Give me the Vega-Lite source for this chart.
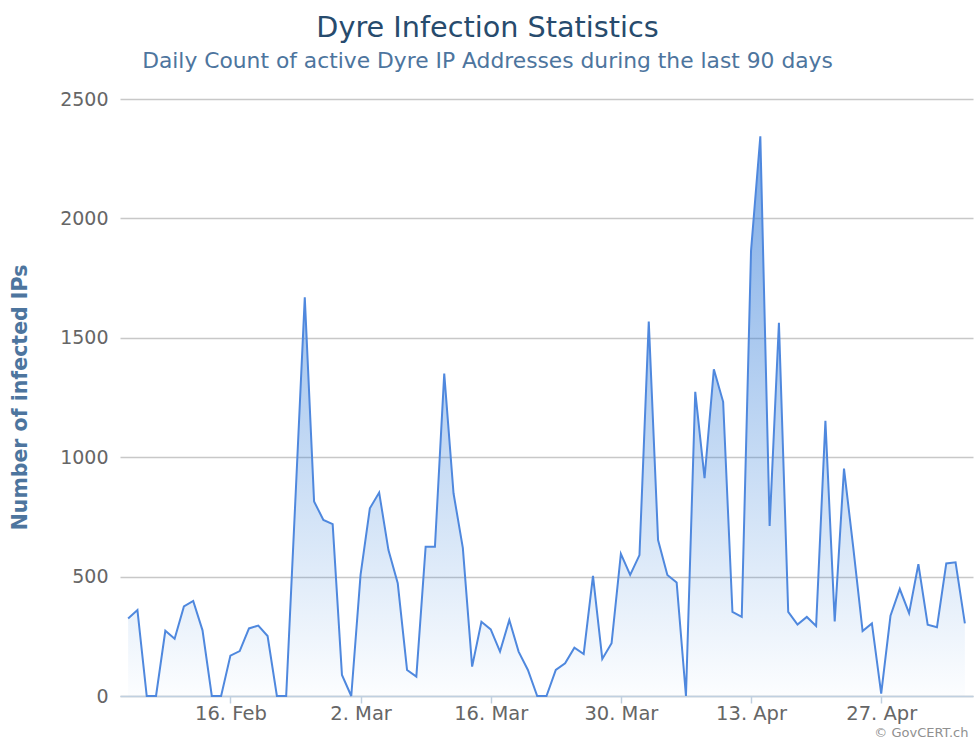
{
  "$schema": "https://vega.github.io/schema/vega-lite/v6.json",
  "width": 853,
  "height": 597,
  "autosize": "none",
  "padding": {"left": 120, "top": 99, "right": 1, "bottom": 44},
  "background": "#ffffff",
  "config": {"view": {"stroke": null}, "font": "DejaVu Sans"},
  "title": {
    "text": "Dyre Infection Statistics",
    "subtitle": "Daily Count of active Dyre IP Addresses during the last 90 days",
    "anchor": "middle",
    "frame": "group",
    "dx": -59,
    "offset": 17,
    "font": "DejaVu Sans",
    "fontSize": 28.7,
    "fontWeight": "normal",
    "color": "#274b6d",
    "subtitleFont": "DejaVu Sans",
    "subtitleFontSize": 21.8,
    "subtitleColor": "#4d759e",
    "subtitlePadding": 8.5
  },
  "data": {
    "values": [
      {"date": "2015-02-05T00:00:00", "ips": 325},
      {"date": "2015-02-06T00:00:00", "ips": 360},
      {"date": "2015-02-07T00:00:00", "ips": 0},
      {"date": "2015-02-08T00:00:00", "ips": 0},
      {"date": "2015-02-09T00:00:00", "ips": 273},
      {"date": "2015-02-10T00:00:00", "ips": 240},
      {"date": "2015-02-11T00:00:00", "ips": 375},
      {"date": "2015-02-12T00:00:00", "ips": 398},
      {"date": "2015-02-13T00:00:00", "ips": 275},
      {"date": "2015-02-14T00:00:00", "ips": 0},
      {"date": "2015-02-15T00:00:00", "ips": 0},
      {"date": "2015-02-16T00:00:00", "ips": 169},
      {"date": "2015-02-17T00:00:00", "ips": 188},
      {"date": "2015-02-18T00:00:00", "ips": 283},
      {"date": "2015-02-19T00:00:00", "ips": 295},
      {"date": "2015-02-20T00:00:00", "ips": 251},
      {"date": "2015-02-21T00:00:00", "ips": 0},
      {"date": "2015-02-22T00:00:00", "ips": 0},
      {"date": "2015-02-23T00:00:00", "ips": 830},
      {"date": "2015-02-24T00:00:00", "ips": 1670},
      {"date": "2015-02-25T00:00:00", "ips": 815},
      {"date": "2015-02-26T00:00:00", "ips": 737},
      {"date": "2015-02-27T00:00:00", "ips": 720},
      {"date": "2015-02-28T00:00:00", "ips": 88},
      {"date": "2015-03-01T00:00:00", "ips": 0},
      {"date": "2015-03-02T00:00:00", "ips": 507},
      {"date": "2015-03-03T00:00:00", "ips": 786},
      {"date": "2015-03-04T00:00:00", "ips": 852},
      {"date": "2015-03-05T00:00:00", "ips": 611},
      {"date": "2015-03-06T00:00:00", "ips": 472},
      {"date": "2015-03-07T00:00:00", "ips": 109},
      {"date": "2015-03-08T00:00:00", "ips": 81},
      {"date": "2015-03-09T00:00:00", "ips": 625},
      {"date": "2015-03-10T00:00:00", "ips": 625},
      {"date": "2015-03-11T00:00:00", "ips": 1350},
      {"date": "2015-03-12T00:00:00", "ips": 849},
      {"date": "2015-03-13T00:00:00", "ips": 620},
      {"date": "2015-03-14T00:00:00", "ips": 123},
      {"date": "2015-03-15T00:00:00", "ips": 311},
      {"date": "2015-03-16T00:00:00", "ips": 279},
      {"date": "2015-03-17T00:00:00", "ips": 186},
      {"date": "2015-03-18T00:00:00", "ips": 318},
      {"date": "2015-03-19T00:00:00", "ips": 186},
      {"date": "2015-03-20T00:00:00", "ips": 109},
      {"date": "2015-03-21T00:00:00", "ips": 0},
      {"date": "2015-03-22T00:00:00", "ips": 0},
      {"date": "2015-03-23T00:00:00", "ips": 109},
      {"date": "2015-03-24T00:00:00", "ips": 137},
      {"date": "2015-03-25T00:00:00", "ips": 202},
      {"date": "2015-03-26T00:00:00", "ips": 176},
      {"date": "2015-03-27T00:00:00", "ips": 503},
      {"date": "2015-03-28T00:00:00", "ips": 155},
      {"date": "2015-03-29T00:00:00", "ips": 221},
      {"date": "2015-03-30T00:00:00", "ips": 595},
      {"date": "2015-03-31T00:00:00", "ips": 507},
      {"date": "2015-04-01T00:00:00", "ips": 590},
      {"date": "2015-04-02T00:00:00", "ips": 1568},
      {"date": "2015-04-03T00:00:00", "ips": 653},
      {"date": "2015-04-04T00:00:00", "ips": 507},
      {"date": "2015-04-05T00:00:00", "ips": 475},
      {"date": "2015-04-06T00:00:00", "ips": 0},
      {"date": "2015-04-07T00:00:00", "ips": 1274},
      {"date": "2015-04-08T00:00:00", "ips": 912},
      {"date": "2015-04-09T00:00:00", "ips": 1368},
      {"date": "2015-04-10T00:00:00", "ips": 1232},
      {"date": "2015-04-11T00:00:00", "ips": 352},
      {"date": "2015-04-12T00:00:00", "ips": 331},
      {"date": "2015-04-13T00:00:00", "ips": 1864},
      {"date": "2015-04-14T00:00:00", "ips": 2344},
      {"date": "2015-04-15T00:00:00", "ips": 712},
      {"date": "2015-04-16T00:00:00", "ips": 1563},
      {"date": "2015-04-17T00:00:00", "ips": 352},
      {"date": "2015-04-18T00:00:00", "ips": 299},
      {"date": "2015-04-19T00:00:00", "ips": 331},
      {"date": "2015-04-20T00:00:00", "ips": 293},
      {"date": "2015-04-21T00:00:00", "ips": 1152},
      {"date": "2015-04-22T00:00:00", "ips": 312},
      {"date": "2015-04-23T00:00:00", "ips": 952},
      {"date": "2015-04-24T00:00:00", "ips": 620},
      {"date": "2015-04-25T00:00:00", "ips": 272},
      {"date": "2015-04-26T00:00:00", "ips": 304},
      {"date": "2015-04-27T00:00:00", "ips": 10},
      {"date": "2015-04-28T00:00:00", "ips": 336},
      {"date": "2015-04-29T00:00:00", "ips": 448},
      {"date": "2015-04-30T00:00:00", "ips": 347},
      {"date": "2015-05-01T00:00:00", "ips": 552},
      {"date": "2015-05-02T00:00:00", "ips": 299},
      {"date": "2015-05-03T00:00:00", "ips": 288},
      {"date": "2015-05-04T00:00:00", "ips": 555},
      {"date": "2015-05-05T00:00:00", "ips": 560},
      {"date": "2015-05-06T00:00:00", "ips": 304}
    ]
  },
  "mark": {
    "type": "area",
    "line": {"color": "#4f88de", "strokeWidth": 2},
    "color": {
      "gradient": "linear",
      "x1": 0, "y1": 0, "x2": 0, "y2": 1,
      "stops": [
        {"offset": 0, "color": "rgba(47,120,216,0.9)"},
        {"offset": 1, "color": "rgba(47,126,216,0.02)"}
      ]
    }
  },
  "encoding": {
    "x": {
      "field": "date",
      "type": "temporal",
      "scale": {
        "domain": [
          {"year": 2015, "month": 2, "date": 4, "hours": 3},
          {"year": 2015, "month": 5, "date": 6, "hours": 21}
        ]
      },
      "axis": {
        "values": [
          {"year": 2015, "month": 2, "date": 16},
          {"year": 2015, "month": 3, "date": 2},
          {"year": 2015, "month": 3, "date": 16},
          {"year": 2015, "month": 3, "date": 30},
          {"year": 2015, "month": 4, "date": 13},
          {"year": 2015, "month": 4, "date": 27}
        ],
        "format": "%-d. %b",
        "grid": false,
        "domainColor": "#C0D0E0",
        "domainWidth": 1.5,
        "tickColor": "#C0D0E0",
        "tickSize": 7,
        "tickWidth": 1.5,
        "labelFont": "DejaVu Sans",
        "labelFontSize": 19.5,
        "labelColor": "#666666",
        "labelPadding": 1,
        "title": "© GovCERT.ch",
        "titleFont": "DejaVu Sans",
        "titleFontSize": 13,
        "titleFontWeight": "normal",
        "titleColor": "#909090",
        "titleAnchor": "end",
        "titleAlign": "right",
        "titleBaseline": "bottom",
        "titleX": 848,
        "titleY": 43.5
      }
    },
    "y": {
      "field": "ips",
      "type": "quantitative",
      "scale": {"domain": [0, 2500], "nice": false},
      "axis": {
        "values": [0, 500, 1000, 1500, 2000, 2500],
        "format": "d",
        "domain": false,
        "ticks": false,
        "gridColor": "#C8C8C8",
        "gridWidth": 1.5,
        "labelFont": "DejaVu Sans",
        "labelFontSize": 19,
        "labelColor": "#666666",
        "labelPadding": 12,
        "title": "Number of infected IPs",
        "titleFont": "DejaVu Sans",
        "titleFontSize": 20.5,
        "titleFontWeight": "bold",
        "titleColor": "#4d759e",
        "titleAngle": -90,
        "titleAlign": "center",
        "titleBaseline": "middle",
        "titleX": -100,
        "titleY": 298
      }
    }
  }
}
